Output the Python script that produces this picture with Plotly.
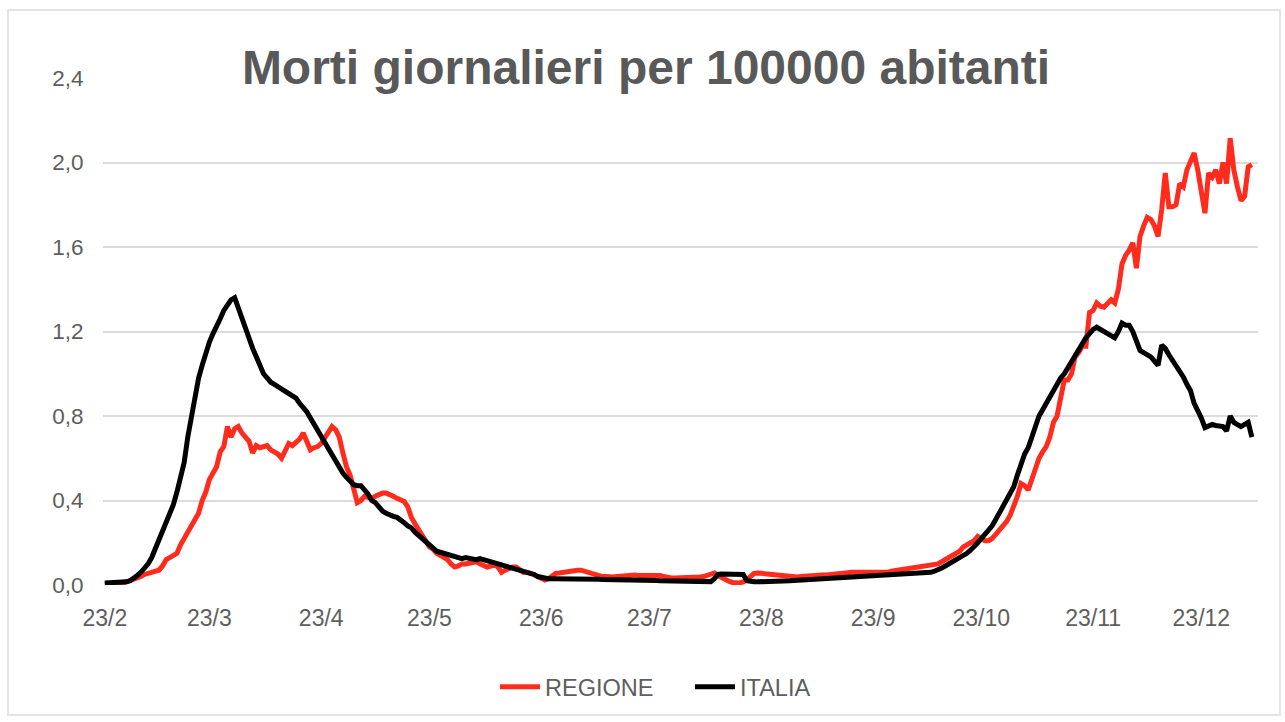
import pandas as pd
import plotly.graph_objects as go

start_date = "2020-02-23"

italia = [
    0.01, 0.01, 0.01, 0.01, 0.01, 0.01, 0.015, 0.02, 0.03, 0.045,
    0.06, 0.08, 0.10, 0.13, 0.17, 0.21, 0.25, 0.29, 0.33, 0.38,
    0.44, 0.50, 0.58, 0.70, 0.80, 0.90, 0.98, 1.04, 1.10, 1.15,
    1.19, 1.22, 1.26, 1.30, 1.33, 1.35, 1.36, 1.31, 1.26, 1.21,
    1.17, 1.12, 1.08, 1.04, 1.00, 0.98, 0.96, 0.95, 0.94, 0.93,
    0.92, 0.91, 0.90, 0.885, 0.86, 0.84, 0.82, 0.79, 0.76, 0.74,
    0.70, 0.67, 0.64, 0.61, 0.58, 0.55, 0.53, 0.51, 0.49, 0.475,
    0.47, 0.47, 0.45, 0.43, 0.40, 0.39, 0.37, 0.35, 0.34, 0.33,
    0.325, 0.32, 0.31, 0.295, 0.28, 0.27, 0.25, 0.235, 0.215, 0.20,
    0.185, 0.17, 0.16, 0.155, 0.15, 0.14, 0.135, 0.13, 0.13, 0.125,
    0.13, 0.127, 0.125, 0.12, 0.125, 0.12, 0.115, 0.11, 0.11, 0.105,
    0.10, 0.095, 0.09, 0.085, 0.08, 0.075, 0.07, 0.065, 0.06, 0.05,
    0.04, 0.035, 0.03, 0.03, 0.03, 0.03, 0.032, 0.03, 0.03, 0.03,
    0.03, 0.03, 0.028, 0.028, 0.028, 0.027, 0.027, 0.027, 0.026, 0.026,
    0.026, 0.025, 0.025, 0.025, 0.025, 0.024, 0.024, 0.023, 0.023, 0.022,
    0.022, 0.022, 0.021, 0.021, 0.02, 0.02, 0.02, 0.02, 0.02, 0.019,
    0.019, 0.018, 0.018, 0.018, 0.017, 0.017, 0.017, 0.016, 0.016, 0.03,
    0.05, 0.052, 0.052, 0.052, 0.052, 0.05, 0.05, 0.05, 0.02, 0.015,
    0.015, 0.015, 0.015, 0.016, 0.016, 0.017, 0.018, 0.018, 0.019, 0.02,
    0.02, 0.021, 0.022, 0.023, 0.024, 0.025, 0.026, 0.028, 0.029, 0.03,
    0.03, 0.031, 0.032, 0.033, 0.034, 0.035, 0.036, 0.037, 0.038, 0.039,
    0.04, 0.041, 0.042, 0.043, 0.044, 0.045, 0.046, 0.047, 0.048, 0.049,
    0.05, 0.05, 0.051, 0.052, 0.053, 0.054, 0.055, 0.056, 0.058, 0.06,
    0.065, 0.07, 0.08, 0.09, 0.10, 0.105, 0.115, 0.125, 0.14, 0.15,
    0.165, 0.18, 0.20, 0.22, 0.24, 0.26, 0.28, 0.31, 0.34, 0.37,
    0.40, 0.43, 0.465, 0.52, 0.58, 0.62, 0.65, 0.70, 0.76, 0.80,
    0.83, 0.86, 0.89, 0.92, 0.955, 0.98, 1.00, 1.03, 1.06, 1.09,
    1.12, 1.14, 1.17, 1.19, 1.21, 1.22, 1.21, 1.20, 1.19, 1.18,
    1.17, 1.20, 1.24, 1.23, 1.23, 1.20, 1.15, 1.11, 1.10, 1.09,
    1.08, 1.06, 1.04, 1.135, 1.12, 1.09, 1.065, 1.04, 1.01, 0.985,
    0.95, 0.92, 0.86, 0.83, 0.79, 0.745, 0.75, 0.76, 0.755, 0.75,
    0.75, 0.73, 0.80, 0.77, 0.76, 0.75, 0.76, 0.77, 0.70,
]

regione = [
    0.005, 0.005, 0.005, 0.005, 0.01, 0.01, 0.015, 0.02, 0.025, 0.03,
    0.04, 0.05, 0.055, 0.06, 0.065, 0.07, 0.09, 0.12, 0.13, 0.14,
    0.15, 0.19, 0.22, 0.25, 0.27, 0.30, 0.34, 0.40, 0.44, 0.50,
    0.53, 0.56, 0.63, 0.655, 0.75, 0.70, 0.74, 0.75, 0.72, 0.70,
    0.68, 0.625, 0.66, 0.65, 0.655, 0.66, 0.64, 0.63, 0.62, 0.60,
    0.64, 0.67, 0.66, 0.675, 0.69, 0.72, 0.68, 0.64, 0.65, 0.655,
    0.67, 0.70, 0.72, 0.75, 0.735, 0.70, 0.625, 0.56, 0.52, 0.45,
    0.39, 0.40, 0.42, 0.415, 0.41, 0.42, 0.43, 0.435, 0.435, 0.43,
    0.42, 0.41, 0.40, 0.395, 0.37, 0.32, 0.29, 0.26, 0.23, 0.20,
    0.18, 0.17, 0.15, 0.14, 0.13, 0.12, 0.10, 0.085, 0.09, 0.10,
    0.10, 0.105, 0.11, 0.11, 0.10, 0.095, 0.085, 0.09, 0.095, 0.085,
    0.06, 0.07, 0.08, 0.085, 0.085, 0.07, 0.06, 0.06, 0.057, 0.05,
    0.04, 0.03, 0.024, 0.03, 0.045, 0.055, 0.057, 0.06, 0.065, 0.065,
    0.07, 0.07, 0.07, 0.065, 0.057, 0.05, 0.045, 0.04, 0.04, 0.04,
    0.038, 0.038, 0.04, 0.042, 0.045, 0.047, 0.047, 0.047, 0.045, 0.045,
    0.045, 0.047, 0.047, 0.047, 0.045, 0.04, 0.035, 0.033, 0.033, 0.033,
    0.033, 0.035, 0.035, 0.038, 0.038, 0.038, 0.04, 0.045, 0.055, 0.057,
    0.045, 0.035, 0.024, 0.018, 0.012, 0.01, 0.01, 0.015, 0.024, 0.04,
    0.055, 0.057, 0.055, 0.05, 0.048, 0.047, 0.047, 0.045, 0.042, 0.04,
    0.038, 0.038, 0.038, 0.04, 0.042, 0.044, 0.045, 0.046, 0.047, 0.047,
    0.047, 0.048, 0.05, 0.052, 0.055, 0.057, 0.058, 0.06, 0.06, 0.058,
    0.057, 0.057, 0.057, 0.058, 0.058, 0.057, 0.058, 0.06, 0.065, 0.068,
    0.07, 0.072, 0.075, 0.078, 0.08, 0.083, 0.085, 0.09, 0.095, 0.10,
    0.10, 0.10, 0.11, 0.12, 0.13, 0.14, 0.15, 0.16, 0.18, 0.19,
    0.20, 0.21, 0.23, 0.22, 0.21, 0.21, 0.22, 0.24, 0.26, 0.275,
    0.30, 0.33, 0.37, 0.42, 0.48, 0.47, 0.45, 0.50, 0.56, 0.60,
    0.63, 0.655, 0.70, 0.77, 0.80, 0.88, 0.97, 0.97, 1.00, 1.08,
    1.10, 1.13, 1.13, 1.29, 1.30, 1.335, 1.32, 1.315, 1.33, 1.35,
    1.335, 1.40, 1.52, 1.56, 1.585, 1.62, 1.50, 1.65, 1.70, 1.74,
    1.73, 1.70, 1.65, 1.775, 1.95, 1.79, 1.79, 1.80, 1.90, 1.885,
    1.965, 2.00, 2.045, 1.965, 1.85, 1.76, 1.95, 1.93, 1.965, 1.90,
    2.00, 1.90, 2.115, 1.965, 1.885, 1.82, 1.84, 1.98, 1.99,
]

dates = pd.date_range(start_date, periods=len(italia), freq="D")

tick_dates = ["2020-02-23", "2020-03-23", "2020-04-23", "2020-05-23", "2020-06-23",
              "2020-07-23", "2020-08-23", "2020-09-23", "2020-10-23", "2020-11-23",
              "2020-12-23"]
tick_labels = ["23/2", "23/3", "23/4", "23/5", "23/6", "23/7", "23/8", "23/9",
               "23/10", "23/11", "23/12"]
y_ticks = [0.0, 0.4, 0.8, 1.2, 1.6, 2.0, 2.4]

TEXT = "#5e5e5e"
FONT = "Liberation Sans, Arial, sans-serif"

fig = go.Figure()
fig.add_trace(go.Scatter(x=dates, y=regione, mode="lines", name="REGIONE",
                         line=dict(color="#ff2b1c", width=5)))
fig.add_trace(go.Scatter(x=dates, y=italia, mode="lines", name="ITALIA",
                         line=dict(color="#000000", width=5)))

W, H = 1285, 722
L, R, T, B = 103, 27, 78, 137
pw, ph = W - L - R, H - T - B

def px(xp):
    return (xp - L) / pw

def py(yp):
    return (H - B - yp) / ph

fig.update_layout(
    width=W, height=H,
    margin=dict(l=L, r=R, t=T, b=B, pad=0),
    paper_bgcolor="white", plot_bgcolor="white",
    separators=",.",
    font=dict(family=FONT, color=TEXT, size=22),
    title=dict(text="<b>Morti giornalieri per 100000 abitanti</b>",
               font=dict(family=FONT, size=48, color="#595959"),
               x=646 / W, xanchor="center", xref="container",
               y=1 - 67 / H, yanchor="middle", yref="container"),
    showlegend=True,
    legend=dict(orientation="h", x=px(495), xanchor="left",
                y=py(687), yanchor="middle",
                font=dict(family=FONT, size=23.5, color=TEXT),
                entrywidth=140, entrywidthmode="pixels",
                itemwidth=40, bgcolor="rgba(0,0,0,0)"),
    xaxis=dict(type="date",
               range=["2020-02-22 12:00", "2021-01-07 17:00"],
               tickvals=tick_dates, ticktext=tick_labels,
               showgrid=False, zeroline=False, showline=False,
               ticks="outside", ticklen=12, tickcolor="rgba(0,0,0,0)",
               tickfont=dict(family=FONT, size=23, color=TEXT)),
    yaxis=dict(range=[0, 2.4], tickvals=y_ticks, tickformat=".1f",
               showgrid=True, gridcolor="#dcdcdc", gridwidth=2,
               zeroline=False, showline=False,
               ticks="outside", ticklen=14, tickcolor="rgba(0,0,0,0)",
               tickfont=dict(family=FONT, size=22.5, color=TEXT)),
    shapes=[dict(type="rect", xref="paper", yref="paper",
                 x0=px(8), x1=px(1280), y0=py(715), y1=py(10),
                 line=dict(color="#e4e4e4", width=2), fillcolor="rgba(0,0,0,0)",
                 layer="below")],
)

fig.write_html("out.html")
